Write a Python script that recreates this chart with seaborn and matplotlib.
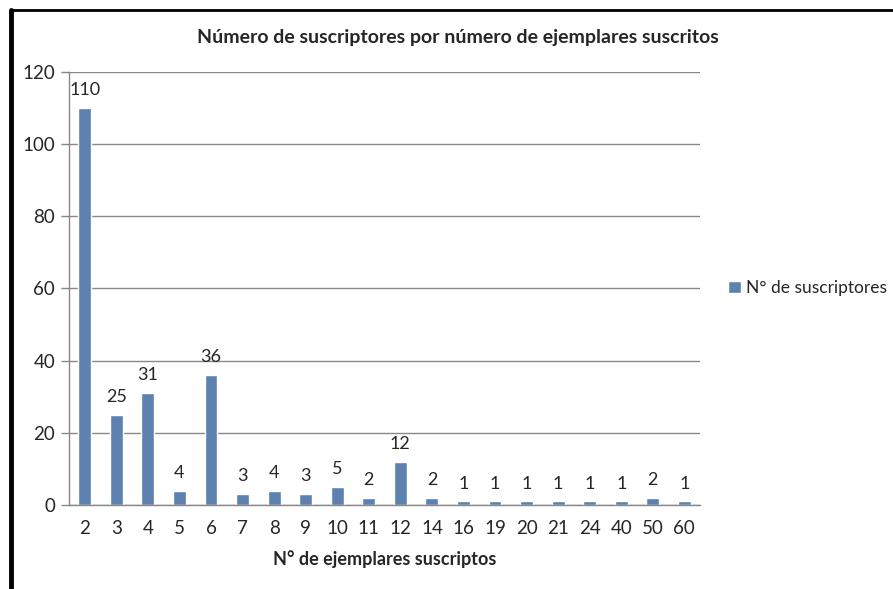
import matplotlib
matplotlib.use("Agg")
from matplotlib import pyplot as plt
from matplotlib.lines import Line2D
import seaborn as sns
import pandas as pd

# datos
ejemplares = ["2", "3", "4", "5", "6", "7", "8", "9", "10", "11", "12",
              "14", "16", "19", "20", "21", "24", "40", "50", "60"]
suscriptores = [110, 25, 31, 4, 36, 3, 4, 3, 5, 2, 12,
                2, 1, 1, 1, 1, 1, 1, 2, 1]
titulo = "Número de suscriptores por número de ejemplares suscritos"
xlabel = "N° de ejemplares suscriptos"
serie = "N° de suscriptores"

df = pd.DataFrame({"x": ejemplares, "y": suscriptores})

sns.set_style("white")
plt.rcParams["font.family"] = ["Lato", "DejaVu Sans"]

fig = plt.figure(figsize=(8.93, 5.89), dpi=100)
ax = fig.add_axes([0.0773, 0.1426, 0.784 - 0.0773, 0.8778 - 0.1426])

sns.barplot(data=df, x="x", y="y", color="#4f81bd", width=0.41,
            label=serie, ax=ax, order=ejemplares)

# etiquetas de datos
for c in ax.containers:
    ax.bar_label(c, padding=7, fontsize=13)

ax.set_ylim(0, 120)
ax.set_yticks(range(0, 121, 20))
ax.set_xlim(-0.5, len(ejemplares) - 0.5)
ax.yaxis.grid(True, color="#888888", linewidth=1)
ax.set_axisbelow(True)
for s in ["top", "right"]:
    ax.spines[s].set_visible(False)
for s in ["left", "bottom"]:
    ax.spines[s].set_color("#888888")
    ax.spines[s].set_linewidth(1)

# ticks entre categorias como en excel
ax.set_xticks([i + 0.5 for i in range(-1, len(ejemplares))], minor=True)
ax.tick_params(axis="x", which="minor", length=6, color="#888888",
               width=1, direction="out")
ax.tick_params(axis="x", which="major", length=0, labelsize=13.5, pad=11)
ax.tick_params(axis="y", length=6, color="#888888", width=1,
               direction="out", labelsize=13.5, left=True, pad=4)

ax.set_xlabel(xlabel, fontsize=13, fontweight="bold", labelpad=9)
ax.set_ylabel("")
fig.text(0.513, 0.937, titulo, ha="center", va="center",
         fontsize=14, fontweight="bold")

ax.legend(loc="center left", bbox_to_anchor=(1.02, 0.5), frameon=False,
          fontsize=12.5, handlelength=0.7, handleheight=0.7,
          handletextpad=0.3)

# bordes negros del marco
fig.add_artist(Line2D([0.0125, 1.0], [0.983, 0.983], color="black",
                      linewidth=2, transform=fig.transFigure))
fig.add_artist(Line2D([0.0125, 0.0125], [0.0, 0.983], color="black",
                      linewidth=3.5, transform=fig.transFigure))

fig.savefig("out.png", dpi=100)
